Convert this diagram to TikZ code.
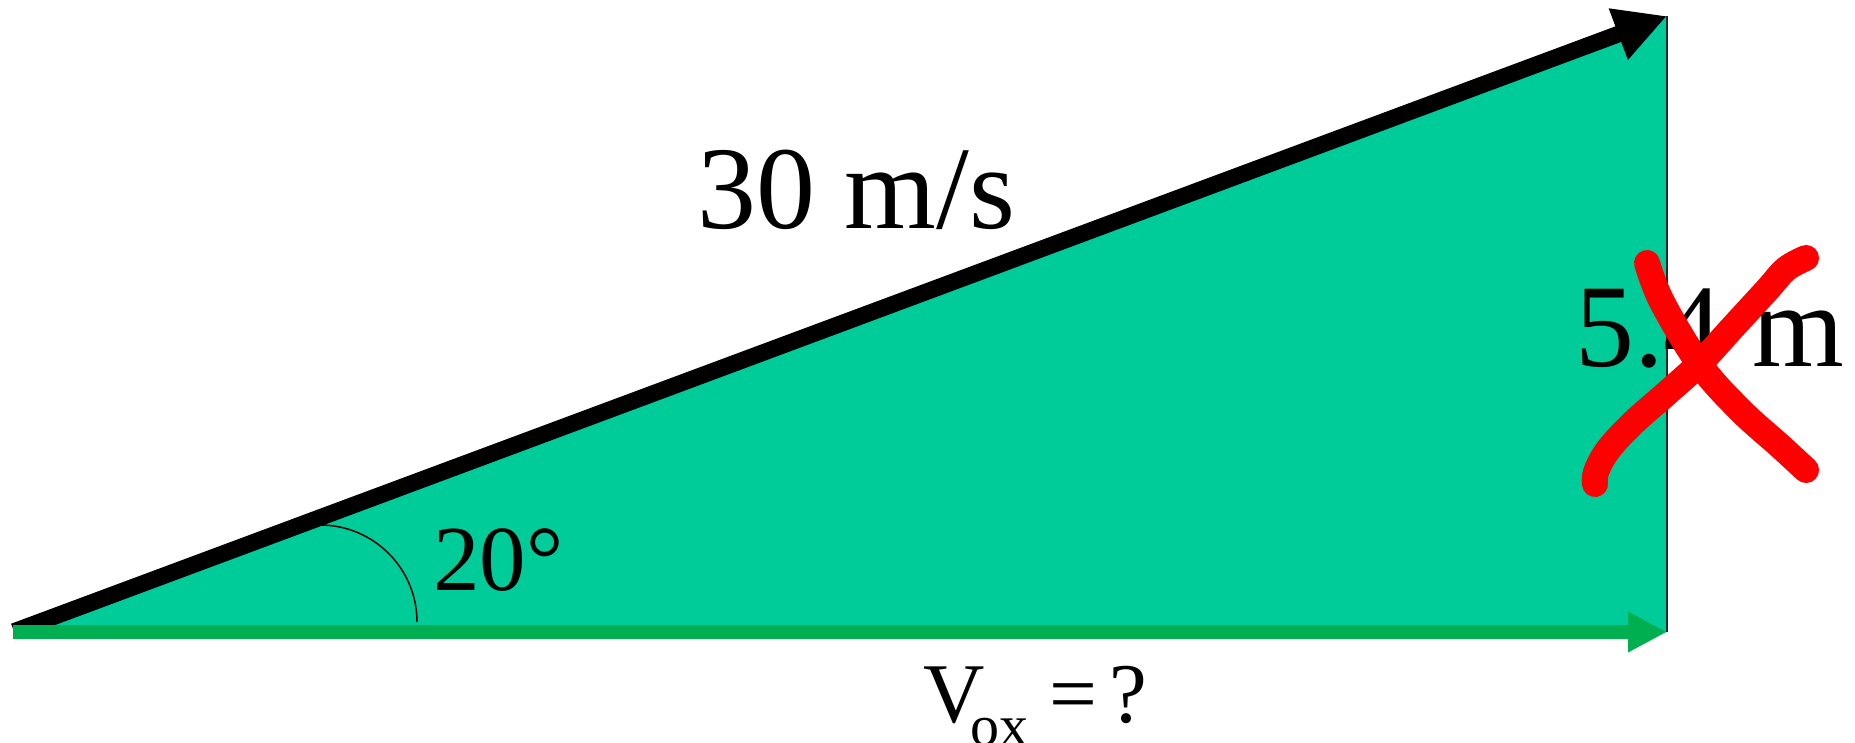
\documentclass[tikz,border=0pt]{standalone}
\usepackage{fontspec}
\setmainfont{Liberation Serif}
\usetikzlibrary{arrows.meta}
\definecolor{tealfill}{RGB}{0,204,153}
\definecolor{greenbar}{RGB}{0,176,80}
\definecolor{redx}{RGB}{255,0,0}
\tikzset{
  lbl/.style={anchor=base west, inner sep=0pt, outer sep=0pt},
  bigtxt/.style={lbl, font=\fontsize{59pt}{70pt}\selectfont},
  angtxt/.style={lbl, font=\fontsize{46.5pt}{55pt}\selectfont},
  voxtxt/.style={lbl, font=\fontsize{42.5pt}{50pt}\selectfont},
  xstroke/.style={draw=redx, line width=13pt, line cap=round, line join=round},
}
\begin{document}
\begin{tikzpicture}[x=0.5pt,y=-0.5pt]
\useasboundingbox (0,0) rectangle (1855,743);
\coordinate (A) at (14,631.5);
\coordinate (B) at (1667,16);
\coordinate (C) at (1667,632);
\coordinate (G0) at (13,632);
\coordinate (arcS) at (320,525);
\coordinate (arcE) at (417,622);
% filled triangle
\fill[tealfill] (A) -- (B) -- (C) -- cycle;
% vertical side
\draw[line width=0.75pt, black!85] (B) -- (C);
% resultant velocity arrow
\draw[line width=8.3pt, -{Triangle[length=26pt,width=25.5pt]}] (A) -- (B);
% horizontal component arrow
\draw[line width=6.8pt, greenbar, -{Triangle[length=19.5pt,width=19pt]}] (G0) -- (C);
% angle arc
\draw[line width=0.75pt] (arcS) .. controls (373.6,525) and (417,568.4) .. (arcE);
% labels
\node[bigtxt] (speed) at (697,228) {30 m/s};
\node[angtxt] (ang) at (433,590) {20°};
\node[bigtxt] (height) at (1575,366) {5.4 m};
\node[voxtxt] (vox) at (923,722) {V\kern-7pt\raisebox{-11.5pt}{\fontsize{29pt}{34pt}\selectfont ox} = \kern-4.5pt?};
% red cross
\draw[xstroke] plot[smooth, tension=0.6] coordinates {(1647,263) (1662,302) (1700,365) (1740,410) (1780,446) (1806,470)};
\draw[xstroke] plot[smooth, tension=0.6] coordinates {(1806,258) (1786,269) (1767,290) (1733,327) (1700,363) (1667,393) (1633,423) (1608,450) (1596,472) (1595,484)};
\end{tikzpicture}
\end{document}
